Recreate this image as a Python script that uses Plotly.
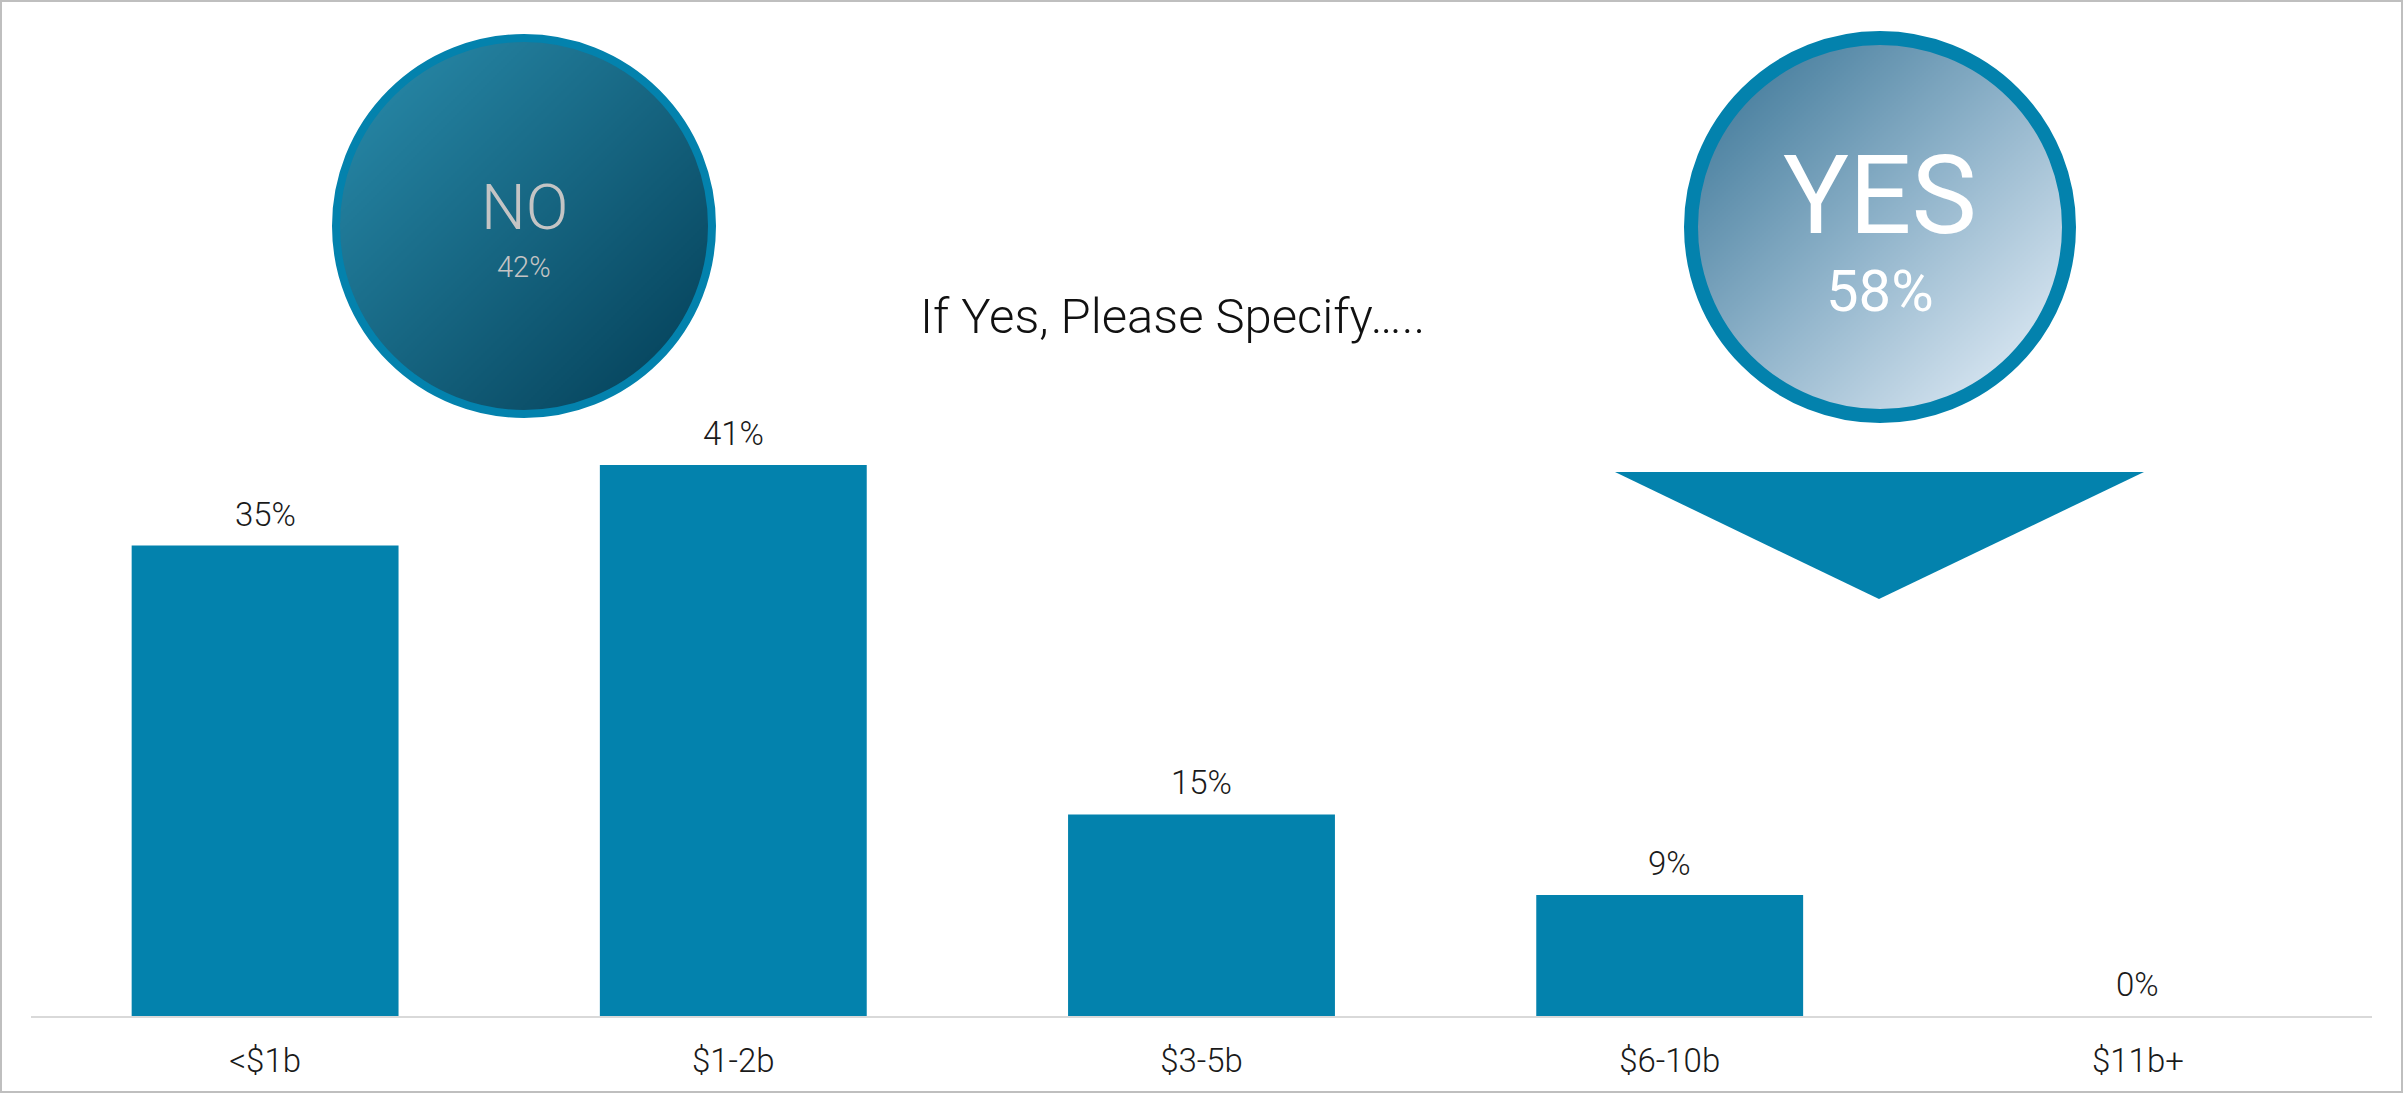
import numpy as np
import plotly.graph_objects as go

# Survey data
categories = ["<$1b", "$1-2b", "$3-5b", "$6-10b", "$11b+"]
shares = [35, 41, 15, 9, 0]
no_label, no_share = "NO", 42
yes_label, yes_share = "YES", 58
subtitle = "If Yes, Please Specify….."

W, H = 2403, 1093
BLUE = "#0382ad"
FONT = "Roboto"


def disc_gradient(cx, cy, r, scale, step=2):
    """Diagonal (top-left -> bottom-right) gradient fill for a disc, as a heatmap in pixel space."""
    xs = np.arange(cx - r, cx + r + step, step, dtype=float)
    ys = np.arange(cy - r, cy + r + step, step, dtype=float)
    X, Y = np.meshgrid(xs, ys)
    t = ((X - (cx - r)) + (Y - (cy - r))) / (4.0 * r)
    t = np.where((X - cx) ** 2 + (Y - cy) ** 2 <= (r + 1) ** 2, t, np.nan)
    return go.Heatmap(
        x=xs, y=ys, z=t, zmin=0, zmax=1, colorscale=scale, zsmooth=False,
        showscale=False, hoverinfo="skip", xaxis="x2", yaxis="y2",
    )


fig = go.Figure()

# Bars
fig.add_trace(go.Bar(
    x=categories, y=shares,
    marker=dict(color=BLUE, line=dict(width=0)),
    cliponaxis=False, hoverinfo="skip",
))

# Decorative discs (pixel-space overlay)
no_c, no_r, no_w = (524, 226), 192, 8
yes_c, yes_r, yes_w = (1880, 227), 196, 14
fig.add_trace(disc_gradient(no_c[0], no_c[1], no_r - no_w / 2,
                            [[0, "#2a8eae"], [1, "#023c54"]]))
fig.add_trace(disc_gradient(yes_c[0], yes_c[1], yes_r - yes_w / 2,
                            [[0, "#336f91"], [0.5, "#8fb3ca"], [1, "#eef5fd"]]))

shapes = []
for (cx, cy), r, w in [(no_c, no_r, no_w), (yes_c, yes_r, yes_w)]:
    rr = r - w / 2
    shapes.append(dict(type="circle", xref="x2", yref="y2",
                       x0=cx - rr, x1=cx + rr, y0=cy - rr, y1=cy + rr,
                       line=dict(color=BLUE, width=w), fillcolor="rgba(0,0,0,0)"))
# Down arrow below the YES disc
shapes.append(dict(type="path", xref="x2", yref="y2",
                   path="M1615,472 L2144,472 L1879,599 Z",
                   fillcolor=BLUE, line=dict(width=0)))
# Frame
shapes.append(dict(type="rect", xref="x2", yref="y2", x0=1, x1=W - 1, y0=1, y1=H - 1,
                   line=dict(color="#bfbfbf", width=2), fillcolor="rgba(0,0,0,0)"))

annotations = [
    dict(text=no_label, x=no_c[0], y=207, font=dict(family=FONT, size=63, color="#c4c4c4", weight=300)),
    dict(text=f"{no_share}%", x=no_c[0], y=267, font=dict(family=FONT, size=29, color="#c4c4c4", weight=300)),
    dict(text=yes_label, x=yes_c[0], y=195, font=dict(family=FONT, size=110, color="#ffffff", weight=400)),
    dict(text=f"{yes_share}%", x=yes_c[0], y=291, font=dict(family=FONT, size=58, color="#ffffff", weight=400)),
    dict(text=subtitle, x=1172, y=316, font=dict(family=FONT, size=49, color="#111111", weight=300)),
]
for a in annotations:
    a.update(xref="x2", yref="y2", showarrow=False, xanchor="center", yanchor="middle")

# Value labels above each bar
for cat, v in zip(categories, shares):
    annotations.append(dict(
        text=f"{v}%", x=cat, y=v, xref="x", yref="y", showarrow=False,
        xanchor="center", yanchor="bottom", yshift=10,
        font=dict(family=FONT, size=33, color="#1a1a1a", weight=300),
    ))

fig.update_layout(
    width=W, height=H,
    margin=dict(l=0, r=0, t=0, b=0),
    paper_bgcolor="white", plot_bgcolor="rgba(0,0,0,0)",
    showlegend=False, bargap=0.43,
    xaxis=dict(domain=[31 / W, 2372 / W], showline=True, linecolor="#d9d9d9", linewidth=2,
               ticks="outside", ticklen=14, tickcolor="rgba(0,0,0,0)",
               tickfont=dict(family=FONT, size=33, color="#1a1a1a", weight=300),
               showgrid=False, zeroline=False, automargin=False, fixedrange=True),
    yaxis=dict(domain=[1 - 1016 / H, 1 - 344 / H], range=[0, 50], visible=False,
               showgrid=False, zeroline=False, fixedrange=True),
    xaxis2=dict(domain=[0, 1], range=[0, W], visible=False, anchor="y2", fixedrange=True),
    yaxis2=dict(domain=[0, 1], range=[H, 0], visible=False, anchor="x2", fixedrange=True),
    shapes=shapes, annotations=annotations,
)

fig.write_html("out.html", config={"displayModeBar": False})
